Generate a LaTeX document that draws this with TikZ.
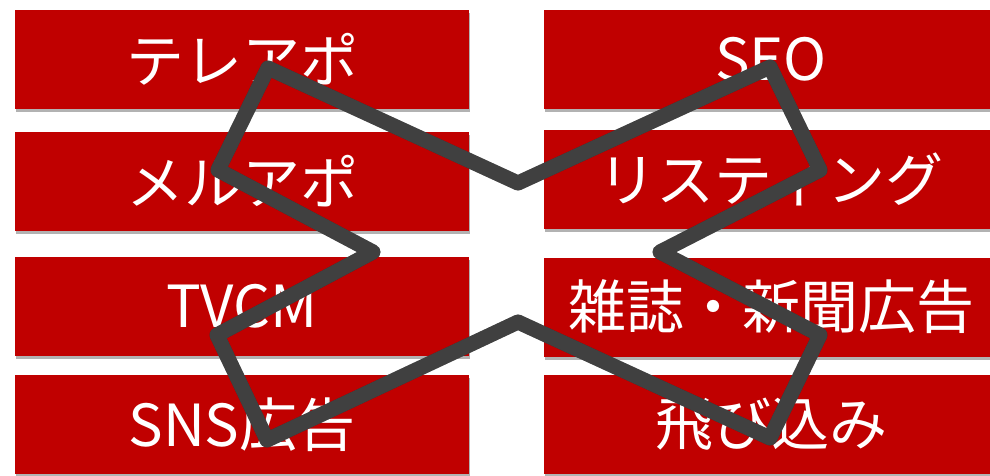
\documentclass[tikz,border=0pt]{standalone}
\usepackage{fontspec}
\setmainfont{Noto Sans CJK JP}
\usetikzlibrary{shadows}
\definecolor{boxred}{HTML}{C00000}
\definecolor{xgray}{HTML}{404040}
\tikzset{
  redbox/.style={fill=boxred, minimum width=454pt, minimum height=99pt, inner sep=0pt,
    text=white, font=\fontsize{58pt}{60pt}\selectfont,
    drop shadow={shadow xshift=1pt, shadow yshift=-3pt, opacity=0.3, fill=black}},
  xline/.style={draw=xgray, line width=15pt, line join=round, line cap=round},
  xshadow/.style={draw=black, opacity=0.25, line width=15pt, line join=round, line cap=round}
}
\begin{document}
\begin{tikzpicture}[x=1pt,y=-1pt]
\useasboundingbox (0,0) rectangle (990,475);
\node[redbox] (l1) at (242,59.5) {テレアポ};
\node[redbox] (l2) at (242,181.5) {メルアポ};
\node[redbox] (l3) at (242,306) {TVCM};
\node[redbox] (l4) at (242,424.5) {SNS広告};
\node[redbox] (r1) at (771,59.5) {SEO};
\node[redbox] (r2) at (771,179) {リスティング};
\node[redbox] (r3) at (771,307) {雑誌・新聞広告};
\node[redbox] (r4) at (771,424.5) {飛び込み};
\coordinate (A) at (268,68);
\coordinate (B) at (518,183);
\coordinate (C) at (770,67);
\coordinate (D) at (820,170);
\coordinate (E) at (660,252);
\coordinate (F) at (820,335);
\coordinate (G) at (770,438);
\coordinate (H) at (518,322);
\coordinate (I) at (267,440);
\coordinate (J) at (217,335);
\coordinate (K) at (373,252);
\coordinate (L) at (218,170);
\begin{scope}[shift={(2,3)}]
\draw[xshadow] (A) -- (B) -- (C) -- (D) -- (E) -- (F) -- (G) -- (H) -- (I) -- (J) -- (K) -- (L) -- cycle;
\end{scope}
\draw[xline] (A) -- (B) -- (C) -- (D) -- (E) -- (F) -- (G) -- (H) -- (I) -- (J) -- (K) -- (L) -- cycle;
\end{tikzpicture}
\end{document}
